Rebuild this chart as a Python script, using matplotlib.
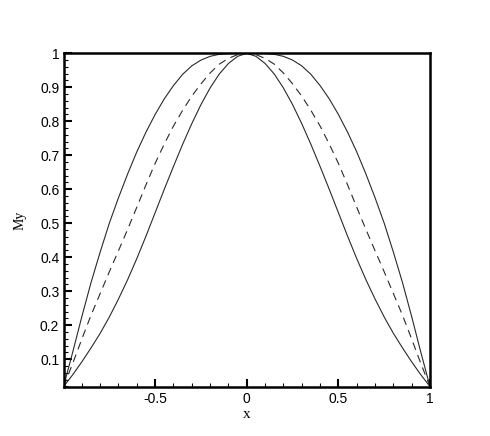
import matplotlib
matplotlib.use("Agg")
import matplotlib.pyplot as plt
from matplotlib.ticker import MultipleLocator

# x positions
x = [-1.00, -0.95, -0.90, -0.85, -0.80, -0.75, -0.70, -0.65, -0.60, -0.55,
     -0.50, -0.45, -0.40, -0.35, -0.30, -0.25, -0.20, -0.15, -0.10, -0.05,
      0.00,
      0.05,  0.10,  0.15,  0.20,  0.25,  0.30,  0.35,  0.40,  0.45,  0.50,
      0.55,  0.60,  0.65,  0.70,  0.75,  0.80,  0.85,  0.90,  0.95,  1.00]

# outer solid curve
outer = [0.019, 0.120, 0.225, 0.325, 0.415, 0.500, 0.575, 0.645, 0.710, 0.768,
         0.820, 0.866, 0.905, 0.938, 0.963, 0.980, 0.991, 0.997, 0.9995, 1.000,
         1.000,
         1.000, 0.9995, 0.997, 0.991, 0.980, 0.963, 0.938, 0.905, 0.866, 0.820,
         0.768, 0.710, 0.645, 0.575, 0.500, 0.415, 0.325, 0.225, 0.120, 0.019]

# middle dashed curve
middle = [0.019, 0.087, 0.159, 0.229, 0.293, 0.357, 0.419, 0.482, 0.547, 0.613,
          0.676, 0.733, 0.786, 0.832, 0.874, 0.910, 0.942, 0.968, 0.985, 0.996,
          1.000,
          0.996, 0.985, 0.968, 0.942, 0.910, 0.874, 0.832, 0.786, 0.733, 0.676,
          0.613, 0.547, 0.482, 0.419, 0.357, 0.293, 0.229, 0.159, 0.087, 0.019]

# inner solid curve
inner = [0.019, 0.054, 0.092, 0.133, 0.176, 0.224, 0.277, 0.334, 0.396, 0.462,
         0.531, 0.600, 0.667, 0.732, 0.793, 0.849, 0.898, 0.939, 0.970, 0.991,
         1.000,
         0.991, 0.970, 0.939, 0.898, 0.849, 0.793, 0.732, 0.667, 0.600, 0.531,
         0.462, 0.396, 0.334, 0.277, 0.224, 0.176, 0.133, 0.092, 0.054, 0.019]

xticks = [-0.5, 0, 0.5, 1]
xtick_labels = ["-0.5", "0", "0.5", "1"]
yticks = [0.1, 0.2, 0.3, 0.4, 0.5, 0.6, 0.7, 0.8, 0.9, 1.0]
ytick_labels = ["0.1", "0.2", "0.3", "0.4", "0.5", "0.6", "0.7", "0.8", "0.9", "1"]

fig = plt.figure(figsize=(4.90, 4.36), dpi=100)
ax = fig.add_axes([0.1296, 0.1131, 0.748, 0.7647])

lc = "#2a2a2a"
ax.plot(x, outer, color=lc, lw=0.8, solid_joinstyle="round")
ax.plot(x, middle, color=lc, lw=0.8, dashes=(7, 5))
ax.plot(x, inner, color=lc, lw=0.8, solid_joinstyle="round")

ax.set_xlim(-1, 1)
ax.set_ylim(0.019, 1.0)

ax.set_xticks(xticks)
ax.set_xticklabels(xtick_labels, family="Liberation Sans", fontsize=10)
ax.set_yticks(yticks)
ax.set_yticklabels(ytick_labels, family="Liberation Sans", fontsize=10)
ax.xaxis.set_minor_locator(MultipleLocator(0.1))
ax.yaxis.set_minor_locator(MultipleLocator(0.02))

ax.tick_params(which="major", direction="in", length=6, width=1.5,
               top=False, right=False, pad=3)
ax.tick_params(which="minor", direction="in", length=3, width=0.8,
               top=False, right=False)
ax.tick_params(axis="x", which="major", pad=4)

for s in ax.spines.values():
    s.set_linewidth(1.8)
    s.set_color("black")

ax.set_xlabel("x", family="Liberation Serif", fontsize=11, labelpad=1)
ax.set_ylabel("My", family="Liberation Serif", fontsize=10, labelpad=10)

fig.savefig("out.png", dpi=100)
